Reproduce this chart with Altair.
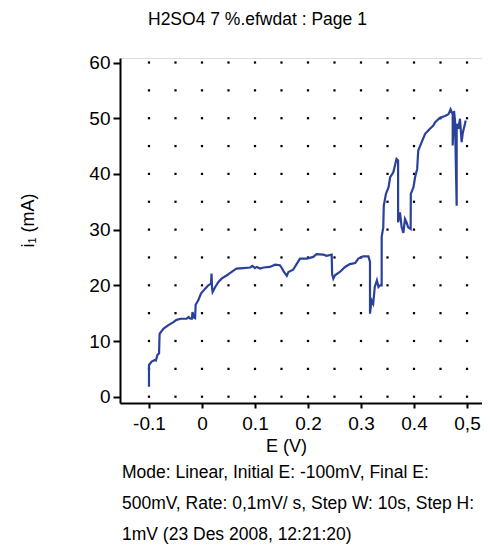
import altair as alt
import pandas as pd

# ---- data ----
E_V = [-0.100, -0.100, -0.095, -0.089, -0.087, -0.084, -0.081, -0.080, -0.073, -0.064,
       -0.054, -0.048, -0.040, -0.029, -0.025, -0.022, -0.019, -0.018, -0.015, -0.013,
       -0.012, -0.007, -0.002, 0.006, 0.012, 0.017, 0.018, 0.019, 0.020, 0.025,
       0.031, 0.037, 0.047, 0.056, 0.065, 0.078, 0.091, 0.095, 0.100, 0.103,
       0.110, 0.116, 0.128, 0.138, 0.147, 0.150, 0.154, 0.160, 0.163, 0.172,
       0.179, 0.185, 0.198, 0.210, 0.216, 0.229, 0.235, 0.2447, 0.2455, 0.2478,
       0.251, 0.260, 0.270, 0.279, 0.289, 0.295, 0.304, 0.314, 0.317, 0.317,
       0.320, 0.323, 0.326, 0.330, 0.333, 0.336, 0.339, 0.339, 0.342, 0.343,
       0.347, 0.352, 0.355, 0.361, 0.367, 0.370, 0.370, 0.3736, 0.3767, 0.380,
       0.383, 0.386, 0.389, 0.3937, 0.394, 0.399, 0.402, 0.406, 0.408, 0.4145,
       0.421, 0.430, 0.4365, 0.440, 0.449, 0.4585, 0.465, 0.469, 0.473, 0.473,
       0.4755, 0.4774, 0.4805, 0.4805, 0.4836, 0.4868, 0.4899, 0.4918, 0.4931, 0.4962,
       0.4975]
I_mA = [1.8, 5.7, 6.3, 6.6, 6.5, 7.5, 7.8, 11.3, 12.2, 12.8,
        13.4, 13.8, 14.0, 14.0, 14.3, 14.0, 14.0, 15.2, 14.2, 14.1,
        16.5, 17.3, 18.5, 19.4, 20.0, 20.3, 22.1, 19.5, 18.8, 19.7,
        20.6, 21.2, 21.8, 22.4, 23.0, 23.1, 23.2, 23.5, 23.1, 23.3,
        23.0, 23.2, 23.3, 23.7, 23.6, 23.2, 22.5, 21.7, 22.4, 22.8,
        23.9, 24.8, 24.8, 25.1, 25.6, 25.5, 25.3, 25.5, 22.0, 21.2,
        21.8, 22.4, 23.3, 23.8, 24.0, 24.8, 25.2, 25.2, 24.2, 14.9,
        17.3, 16.7, 19.7, 20.9, 19.7, 20.0, 20.0, 28.7, 30.4, 34.3,
        36.4, 37.6, 39.4, 40.3, 42.7, 42.4, 31.3, 33.1, 30.4, 29.4,
        31.9, 31.3, 30.4, 30.1, 36.4, 37.6, 39.4, 40.9, 44.2, 45.7,
        47.2, 48.1, 48.7, 49.3, 50.1, 50.4, 50.7, 51.6, 50.7, 45.1,
        51.3, 49.6, 34.3, 49.0, 48.1, 49.9, 45.7, 47.2, 47.8, 49.0,
        49.6]

x_ticks = [-0.1, -0.05, 0.0, 0.05, 0.1, 0.15, 0.2, 0.25, 0.3, 0.35, 0.4, 0.45, 0.5]
x_label_values = [-0.1, 0.0, 0.1, 0.2, 0.3, 0.4, 0.5]
x_label_texts = ["-0.1", "0", "0.1", "0.2", "0.3", "0.4", "0,5"]
y_ticks = [0, 5, 10, 15, 20, 25, 30, 35, 40, 45, 50, 55, 60]
y_label_values = [0, 10, 20, 30, 40, 50, 60]

title_text = "H2SO4 7 %.efwdat : Page 1"
x_title = "E (V)"
y_title = "i\u2081 (mA)"
caption_lines = [
    "Mode: Linear, Initial E: -100mV, Final E:",
    "500mV, Rate: 0,1mV/ s, Step W: 10s, Step H:",
    "1mV (23 Des 2008, 12:21:20)",
]

# ---- tables ----
curve = pd.DataFrame({"E": E_V, "I": I_mA, "idx": range(len(E_V))})
grid = pd.DataFrame([{"E": gx, "I": gy} for gx in x_ticks for gy in y_ticks])

FONT = "Liberation Sans"
W, H = 362, 345
xdom = [-0.1547, 0.5283]
ydom = [-1.13, 60.81]

x_expr = "".join(
    f"abs(datum.value - ({v})) < 0.001 ? '{t}' : " for v, t in zip(x_label_values, x_label_texts)
) + "''"
y_expr = "".join(
    f"datum.value == {v} ? '{v}' : " for v in y_label_values
) + "''"

xscale = alt.Scale(domain=xdom, nice=False, zero=False)
yscale = alt.Scale(domain=ydom, nice=False, zero=False)

x_axis = alt.Axis(
    values=x_ticks, labelExpr=x_expr, grid=False,
    domainColor="black", domainWidth=2, tickColor="black", tickWidth=2, tickSize=5,
    labelFont=FONT, labelFontSize=19, labelColor="black", labelPadding=6,
    labelFlush=False, labelOverlap=False,
    title=x_title, titleFont=FONT, titleFontSize=18, titleFontWeight="normal",
    titleColor="black", titleX=166, titleY=43, titleBaseline="middle", titleAlign="center",
)
y_axis = alt.Axis(
    values=y_ticks, labelExpr=y_expr, grid=False,
    domainColor="black", domainWidth=2, tickColor="black", tickWidth=2, tickSize=7,
    labelFont=FONT, labelFontSize=19, labelColor="black", labelPadding=3,
    labelFlush=False, labelOverlap=False,
    title=y_title, titleFont=FONT, titleFontSize=18, titleFontWeight="normal",
    titleColor="black", titleX=-92, titleY=162, titleBaseline="middle", titleAlign="center",
    titleAngle=270,
)

dots = alt.Chart(grid).mark_square(size=5, color="black", opacity=1).encode(
    x=alt.X("E:Q", scale=xscale, axis=x_axis),
    y=alt.Y("I:Q", scale=yscale, axis=y_axis),
)

line = alt.Chart(curve).mark_line(color="#2a419b", strokeWidth=2.2).encode(
    x=alt.X("E:Q", scale=xscale),
    y=alt.Y("I:Q", scale=yscale),
    order="idx:Q",
)

caption = alt.Chart(pd.DataFrame({"a": [0]})).mark_text(
    text=caption_lines, align="left", baseline="alphabetic", lineHeight=31,
    font=FONT, fontSize=17.5, color="black",
).encode(x=alt.value(2), y=alt.value(420))

chart = alt.layer(dots, line, caption).properties(
    width=W, height=H,
    title=alt.TitleParams(
        title_text, anchor="start", frame="group", dx=28, offset=11,
        baseline="alphabetic", font=FONT, fontSize=17.5, fontWeight="normal", color="black",
    ),
    autosize=alt.AutoSizeParams(type="none"),
    padding={"left": 112, "top": 50, "right": 0, "bottom": 143},
).configure_view(stroke=None).configure(background="white")

chart.save("out.html", embed_options={"renderer": "svg", "actions": False})
